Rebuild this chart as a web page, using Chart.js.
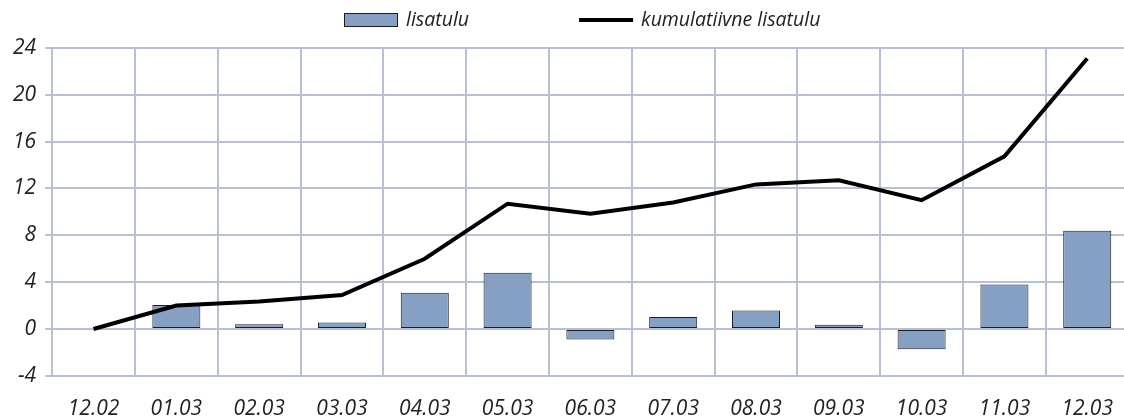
<!DOCTYPE html>
<html>
<head>
<meta charset="utf-8">
<script src="https://cdn.jsdelivr.net/npm/chart.js@4.4.0/dist/chart.umd.min.js"></script>
<style>
  html, body { margin: 0; padding: 0; background: #fff; overflow: hidden; }
  #wrap { position: absolute; left: 0; top: 0; width: 1134px; height: 418px; }
</style>
</head>
<body>
<div id="wrap"><canvas id="chart"></canvas></div>
<script>
// months
const labels = ['12.02', '01.03', '02.03', '03.03', '04.03', '05.03', '06.03', '07.03', '08.03', '09.03', '10.03', '11.03', '12.03'];
// monthly addition (bars)
const lisatulu = [null, 2.05, 0.4, 0.55, 3.1, 4.8, -0.9, 1.03, 1.57, 0.37, -1.74, 3.8, 8.4];
// cumulative addition (line)
const kumulatiivne = [0, 2.0, 2.35, 2.9, 6.0, 10.7, 9.85, 10.8, 12.35, 12.7, 11.0, 14.75, 23.1];
const yTicks = [-4, 0, 4, 8, 12, 16, 20, 24];

const barColor = '#86a0c4';
const barBorder = '#1a1d24';
const gridColor = '#b9c0d4';
const fontFamily = "'Open Sans', 'DejaVu Sans', sans-serif";

// legend drawn on top, centred over the plot area
const topLegend = {
    id: 'topLegend',
    afterDraw: function(chart) {
        const ctx = chart.ctx;
        const area = chart.chartArea;
        const ds = chart.data.datasets;
        const swatchW = 54, gap = 8, itemGap = 110, y = 20;
        ctx.save();
        ctx.font = 'italic 19.5px ' + fontFamily;
        ctx.textBaseline = 'middle';
        const w0 = ctx.measureText(ds[0].label).width;
        const w1 = ctx.measureText(ds[1].label).width;
        const total = swatchW + gap + w0 + itemGap + swatchW + gap + w1;
        let x = Math.round((area.left + area.right) / 2 - total / 2 - 8);

        // bar swatch
        ctx.fillStyle = ds[0].backgroundColor;
        ctx.fillRect(x, y - 7, swatchW, 14);
        ctx.strokeStyle = ds[0].borderColor;
        ctx.lineWidth = 1;
        ctx.strokeRect(x + 0.5, y - 6.5, swatchW - 1, 13);
        x += swatchW + gap;
        ctx.fillStyle = '#222';
        ctx.fillText(ds[0].label, x, y);
        x += w0 + itemGap;

        // line swatch
        ctx.fillStyle = ds[1].borderColor;
        ctx.fillRect(x, y - 2, swatchW, 4);
        x += swatchW + gap;
        ctx.fillStyle = '#222';
        ctx.fillText(ds[1].label, x, y);
        ctx.restore();
    }
};

Chart.defaults.font.family = fontFamily;
Chart.defaults.font.style = 'italic';
Chart.defaults.color = '#222';

new Chart(document.getElementById('chart').getContext('2d'), {
    type: 'bar',
    data: {
        labels: labels,
        datasets: [{
            type: 'bar',
            label: 'lisatulu',
            data: lisatulu,
            backgroundColor: barColor,
            borderColor: barBorder,
            borderWidth: 1,
            borderSkipped: false,
            barPercentage: 0.58,
            categoryPercentage: 1,
            order: 1
        }, {
            type: 'line',
            label: 'kumulatiivne lisatulu',
            data: kumulatiivne,
            borderColor: '#000',
            backgroundColor: '#000',
            borderWidth: 4,
            pointRadius: 0,
            tension: 0,
            fill: false,
            order: 0
        }]
    },
    plugins: [topLegend],
    options: {
        responsive: true,
        maintainAspectRatio: false,
        animation: false,
        layout: { padding: { left: 4, right: 0, top: 48, bottom: -25 } },
        plugins: {
            tooltip: { enabled: false },
            legend: { display: false }
        },
        scales: {
            x: {
                offset: true,
                grid: {
                    offset: true,
                    color: gridColor,
                    lineWidth: 2,
                    drawTicks: false
                },
                border: { color: gridColor, width: 2 },
                ticks: { font: { size: 21 }, padding: 21, maxRotation: 0 }
            },
            y: {
                min: -4,
                max: 24,
                afterBuildTicks: function(axis) {
                    axis.ticks = yTicks.map(function(v) { return { value: v }; });
                },
                grid: {
                    color: gridColor,
                    lineWidth: 2,
                    tickLength: 7
                },
                border: { color: gridColor, width: 2 },
                ticks: { font: { size: 21 }, padding: 9 }
            }
        }
    }
});
</script>
</body>
</html>
